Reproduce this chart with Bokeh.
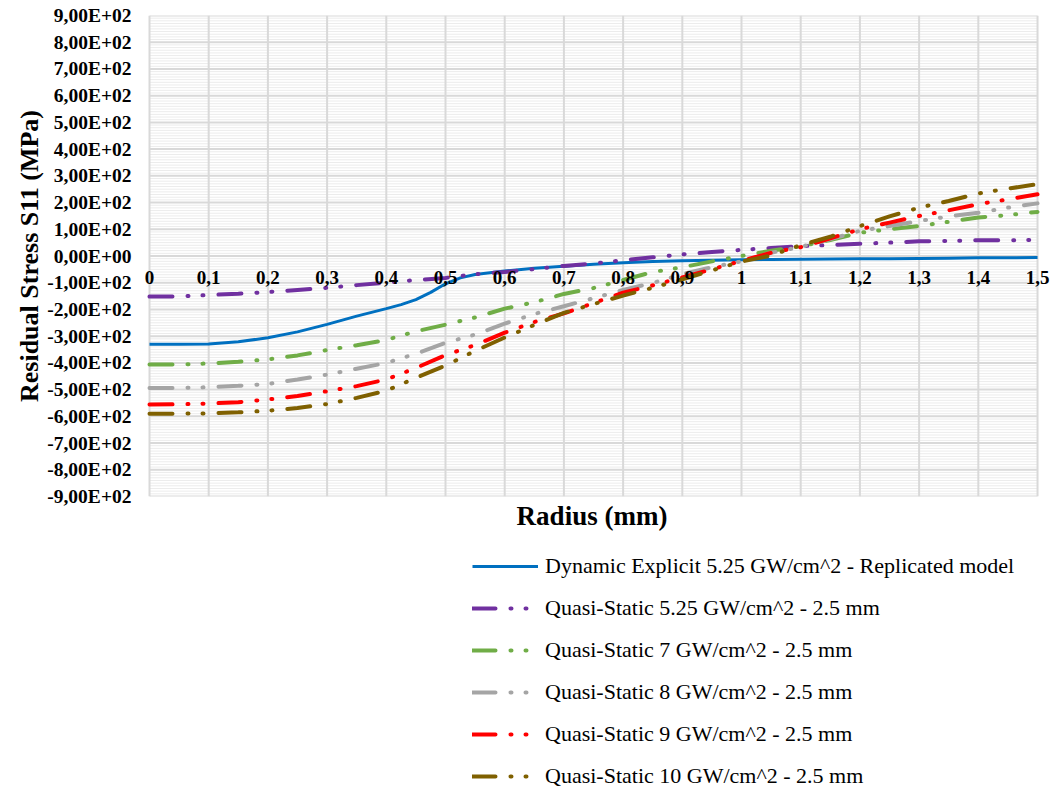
from bokeh.plotting import figure
from bokeh.layouts import column
from bokeh.models import Range1d, FixedTicker, Legend, LegendItem, Title
from bokeh.embed import file_html
from bokeh.resources import INLINE

# ---- data ----
radius = [0.00, 0.05, 0.10, 0.15, 0.20, 0.25, 0.30, 0.35, 0.40, 0.45, 0.50,
          0.55, 0.60, 0.65, 0.70, 0.75, 0.80, 0.85, 0.90, 0.95, 1.00,
          1.05, 1.10, 1.15, 1.20, 1.25, 1.30, 1.35, 1.40, 1.45, 1.50]

radius_dyn = [0.00, 0.05, 0.10, 0.15, 0.20, 0.25, 0.30, 0.35, 0.40, 0.425, 0.45, 0.475, 0.50,
              0.525, 0.55, 0.60, 0.65, 0.70, 0.75, 0.80, 0.85, 0.90, 0.95, 1.00,
              1.05, 1.10, 1.15, 1.20, 1.25, 1.30, 1.35, 1.40, 1.45, 1.50]
dyn_525 = [-330, -330, -329, -321, -306, -284, -256, -225, -197, -182, -163, -136, -104,
           -82, -69, -56, -46, -38, -31, -25, -21, -18, -16, -14,
           -13, -12, -11, -10, -10, -9, -8, -7, -7, -6]
qs_525 = [-152, -151, -146, -141, -135, -127, -119, -109, -100, -90, -82,
          -68, -60, -49, -37, -28, -16, -5, 6, 15, 23,
          30, 37, 41, 46, 50, 55, 56, 59, 59, 60]
qs_7 = [-406, -406, -402, -396, -387, -372, -352, -334, -314, -282, -257,
        -230, -197, -173, -142, -120, -90, -60, -42, -20, 0,
        20, 36, 60, 87, 100, 112, 128, 144, 153, 165]
qs_8 = [-494, -494, -491, -486, -479, -462, -444, -422, -400, -366, -325,
        -294, -253, -217, -188, -158, -127, -101, -68, -42, -20,
        12, 34, 63, 94, 112, 131, 148, 162, 181, 197]
qs_9 = [-556, -555, -552, -547, -537, -524, -506, -487, -462, -419, -371,
        -333, -287, -247, -215, -176, -137, -110, -80, -50, -18,
        12, 33, 66, 100, 125, 150, 171, 194, 212, 231]
qs_10 = [-590, -590, -589, -585, -579, -569, -554, -531, -504, -456, -410,
         -355, -305, -258, -213, -180, -148, -119, -87, -54, -21,
         2, 41, 72, 112, 148, 181, 206, 234, 252, 269]

series_labels = [
    "Dynamic Explicit 5.25 GW/cm^2 - Replicated model",
    "Quasi-Static 5.25 GW/cm^2 - 2.5 mm",
    "Quasi-Static 7 GW/cm^2 - 2.5 mm",
    "Quasi-Static 8 GW/cm^2 - 2.5 mm",
    "Quasi-Static 9 GW/cm^2 - 2.5 mm",
    "Quasi-Static 10 GW/cm^2 - 2.5 mm",
]
series_x = [radius_dyn, radius, radius, radius, radius, radius]
series_values = [dyn_525, qs_525, qs_7, qs_8, qs_9, qs_10]
series_colors = ["#0070C0", "#7030A0", "#70AD47", "#A5A5A5", "#FF0000", "#7F6000"]

x_ticks = [0.0, 0.1, 0.2, 0.3, 0.4, 0.5, 0.6, 0.7, 0.8, 0.9, 1.0, 1.1, 1.2, 1.3, 1.4, 1.5]
x_tick_labels = ["0", "0,1", "0,2", "0,3", "0,4", "0,5", "0,6", "0,7", "0,8", "0,9",
                 "1", "1,1", "1,2", "1,3", "1,4", "1,5"]
y_ticks = [-900, -800, -700, -600, -500, -400, -300, -200, -100, 0,
           100, 200, 300, 400, 500, 600, 700, 800, 900]
y_tick_labels = ["-9,00E+02", "-8,00E+02", "-7,00E+02", "-6,00E+02", "-5,00E+02",
                 "-4,00E+02", "-3,00E+02", "-2,00E+02", "-1,00E+02", "0,00E+00",
                 "1,00E+02", "2,00E+02", "3,00E+02", "4,00E+02", "5,00E+02",
                 "6,00E+02", "7,00E+02", "8,00E+02", "9,00E+02"]
y_minor = [v for v in range(-900, 901, 10) if v % 100 != 0]

FONT = "Liberation Serif"
GRID = "#d9d9d9"
DASH = "23 15 1 14 1 15"

W = 1052
FRAME_LEFT = 131
X0, X1 = x_ticks[0], x_ticks[-1]
Y0, Y1 = y_ticks[0], y_ticks[-1]

p = figure(width=W, height=540,
           x_range=Range1d(-0.0304, 1.5253), y_range=Range1d(-900, 900),
           output_backend="svg", toolbar_location=None,
           min_border_left=FRAME_LEFT, min_border_right=0,
           min_border_top=15, min_border_bottom=44)
p.outline_line_color = None
p.xgrid.visible = False
p.ygrid.visible = False

# grid lines restricted to the data area
p.segment(x0=X0, x1=X1, y0=y_minor, y1=y_minor, line_color="#ececec", line_width=1)
p.segment(x0=X0, x1=X1, y0=y_ticks, y1=y_ticks, line_color=GRID, line_width=2)
p.segment(x0=x_ticks, x1=x_ticks, y0=Y0, y1=Y1, line_color=GRID, line_width=2)

# x axis crossing at zero
xa = p.xaxis[0]
xa.fixed_location = 0
xa.ticker = FixedTicker(ticks=x_ticks)
xa.major_label_overrides = {v: s for v, s in zip(x_ticks, x_tick_labels)}
xa.axis_line_color = None
xa.major_tick_line_color = None
xa.minor_tick_line_color = None
xa.major_tick_out = 0
xa.major_label_standoff = 15
xa.major_label_text_font = FONT
xa.major_label_text_font_style = "bold"
xa.major_label_text_font_size = "19px"
xa.major_label_text_color = "#000000"

# y axis
ya = p.yaxis[0]
ya.ticker = FixedTicker(ticks=y_ticks)
ya.major_label_overrides = {v: s for v, s in zip(y_ticks, y_tick_labels)}
ya.axis_line_color = None
ya.major_tick_line_color = None
ya.minor_tick_line_color = None
ya.major_tick_out = 0
ya.major_label_standoff = 0
ya.major_label_text_font = FONT
ya.major_label_text_font_style = "bold"
ya.major_label_text_font_size = "19.5px"
ya.major_label_text_color = "#000000"
ya.axis_label = "Residual Stress S11 (MPa)"
ya.axis_label_text_font = FONT
ya.axis_label_text_font_style = "bold"
ya.axis_label_text_font_size = "26px"
ya.axis_label_text_color = "#000000"
ya.axis_label_standoff = 0

# series
for i, (xs, vals, col) in enumerate(zip(series_x, series_values, series_colors)):
    if i == 0:
        p.line(xs, vals, line_color=col, line_width=3)
    else:
        p.line(xs, vals, line_color=col, line_width=4, line_dash=DASH, line_cap="round")

p.add_layout(Title(text="Radius (mm)", align="center", text_font=FONT,
                   text_font_style="bold", text_font_size="27px",
                   text_color="#000000", standoff=4), "below")

# legend in its own strip below the chart (frame aligned with the chart's frame)
lg = figure(width=W, height=249, x_range=Range1d(0, 1), y_range=Range1d(0, 1),
            output_backend="svg", toolbar_location=None,
            min_border_left=0, min_border_right=0, min_border_top=0, min_border_bottom=0)
lg.axis.visible = False
lg.grid.visible = False
lg.outline_line_color = None
nan = float("nan")
items = []
for i, (lab, col) in enumerate(zip(series_labels, series_colors)):
    if i == 0:
        r = lg.line([nan], [nan], line_color=col, line_width=3)
    else:
        r = lg.line([nan], [nan], line_color=col, line_width=4, line_dash=DASH, line_cap="round")
    items.append(LegendItem(label=lab, renderers=[r]))

legend = Legend(items=items, orientation="vertical", location=(472 - FRAME_LEFT, 0),
                glyph_width=66, glyph_height=20, label_height=20, spacing=16,
                padding=0, margin=0, label_standoff=7,
                label_text_font=FONT, label_text_font_size="22px",
                label_text_color="#000000",
                border_line_color=None, background_fill_alpha=0)
lg.add_layout(legend, "center")

layout = column(p, lg, spacing=0)
open("out.html", "w").write(file_html(layout, INLINE))
